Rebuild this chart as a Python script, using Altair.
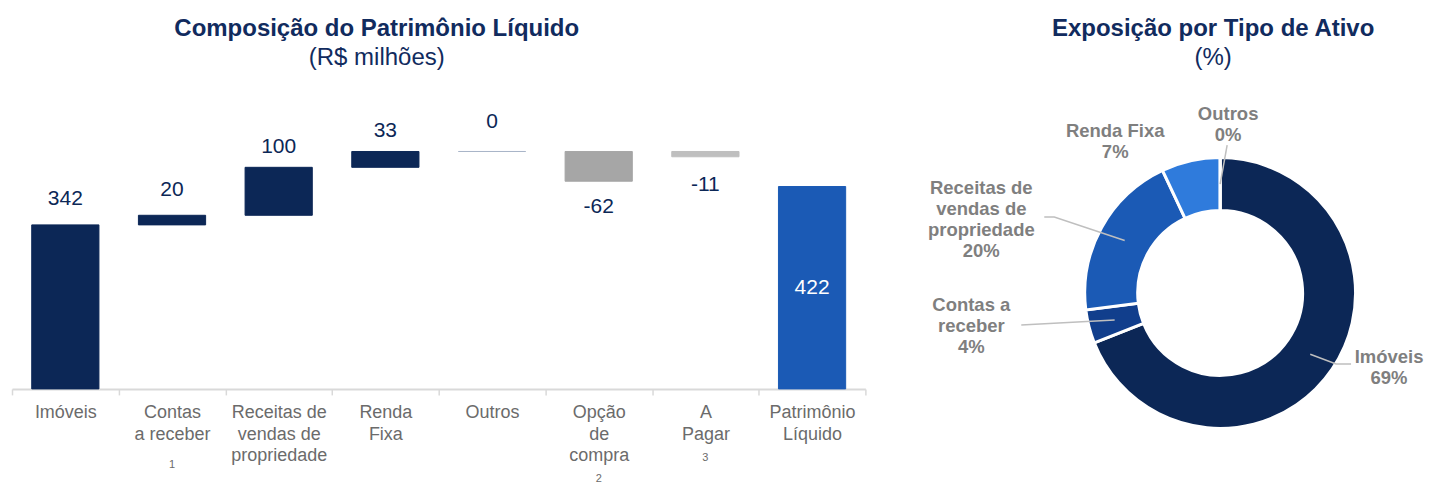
import math
import altair as alt
import pandas as pd

# ---------------- data ----------------
wf_categories = ["Imóveis", "Contas\na receber", "Receitas de\nvendas de\npropriedade", "Renda\nFixa",
                 "Outros", "Opção\nde\ncompra", "A\nPagar", "Patrimônio\nLíquido"]
wf_values = [342, 20, 100, 33, 0, -62, -11, 422]
wf_kinds = ["total", "up", "up", "up", "up", "down", "down", "total"]
wf_notes = ["", "1", "", "", "", "2", "3", ""]

pie_categories = ["Imóveis", "Contas a receber", "Receitas de vendas de propriedade", "Renda Fixa", "Outros"]
pie_label_lines = ["Imóveis", "Contas a|receber", "Receitas de|vendas de|propriedade", "Renda Fixa", "Outros"]
pie_values = [69, 4, 20, 7, 0]

# ---------------- styles ----------------
FONT = "Liberation Sans"
NAVY = "#0C2756"
TITLE_C = "#112B5E"
AXIS_GRAY = "#D9D9D9"
LABEL_GRAY = "#6B6B6B"
PIE_TXT = "#7F7F7F"

WF_COLORS = [NAVY, NAVY, NAVY, NAVY, "#A9B6C9", "#A6A6A6", "#BFBFBF", "#1B5AB5"]
WF_LABEL_POS = ["above", "above", "above", "above", "above", "below", "below", "inside"]
WF_LABEL_DY = [-26, -25, -20, -21, -30, 26, 28, 0]
NOTE_Y = {"1": 375, "2": 389, "3": 368}

PIE_COLORS = [NAVY, "#113E8C", "#1B5AB5", "#2F7BDC", "#9DC3E6"]
X0, Y0 = 896, 90  # page position of the donut panel origin (layout helper)
CX, CY = 1221 - X0, 293 - Y0
R_IN, R_OUT, R_LEAD = 82.5, 135.5, 109
PIE_LABEL_XY_ABS = [(1390, 348), (972, 296), (982, 179), (1116, 122), (1229, 105)]
LEADER_PTS_ABS = {
    "Imóveis": [(1337, 364), (1352, 364)],
    "Contas a receber": [(1022, 325)],
    "Receitas de vendas de propriedade": [(1055, 217), (1045, 217)],
    "Outros": [(1228, 145)],
}

W_LEFT, H = 854, 299
Y_MAX = 623

# ---------------- waterfall ----------------
starts, ends = [], []
level = 0
for v, k in zip(wf_values, wf_kinds):
    if k == "total":
        s, e = 0, v
        level = v
    elif k == "up":
        s, e = level, level + v
        level = e
    else:
        s, e = level, level + v
    starts.append(s)
    ends.append(e)

label_y = []
for s, e, p in zip(starts, ends, WF_LABEL_POS):
    if p == "above":
        label_y.append(max(s, e))
    elif p == "below":
        label_y.append(min(s, e))
    else:
        label_y.append((s + e) / 2)

df_wf = pd.DataFrame({
    "cat": wf_categories,
    "idx": list(range(len(wf_categories))),
    "start": starts,
    "end": ends,
    "color": WF_COLORS,
    "ly": label_y,
    "ltxt": [str(v) for v in wf_values],
    "note": wf_notes,
})

x_enc = alt.X(
    "cat:N", sort=wf_categories, title=None,
    scale=alt.Scale(paddingInner=0, paddingOuter=0),
    axis=alt.Axis(
        labelExpr="split(datum.label, '\\n')", labelAngle=0, labelFont=FONT, labelFontSize=18,
        labelColor=LABEL_GRAY, labelLineHeight=21.5, labelPadding=9, labelOverlap=False,
        labelBound=False, labelLimit=0, tickSize=6, tickColor=AXIS_GRAY, tickWidth=1.5,
        tickBand="extent", domainColor=AXIS_GRAY, domainWidth=2, grid=False,
    ),
)
y_scale = alt.Scale(domain=[0, Y_MAX], nice=False, zero=True)

base = alt.Chart(df_wf).encode(x=x_enc)
bars = base.mark_bar(width=alt.RelativeBandSize(0.63), strokeWidth=1).encode(
    y=alt.Y("start:Q", scale=y_scale, axis=None),
    y2="end:Q",
    fill=alt.Fill("color:N", scale=None),
    stroke=alt.Stroke("color:N", scale=None),
)
layers = [bars]
for i, (p, dy) in enumerate(zip(WF_LABEL_POS, WF_LABEL_DY)):
    layers.append(
        base.transform_filter(alt.datum.idx == i).mark_text(
            font=FONT, fontSize=21, baseline="middle", dy=dy,
            color=("white" if p == "inside" else NAVY),
        ).encode(y=alt.Y("ly:Q", scale=y_scale, axis=None), text="ltxt:N")
    )
for n in wf_notes:
    if n:
        layers.append(
            base.transform_filter(alt.datum.note == n).mark_text(
                font=FONT, fontSize=11, color=LABEL_GRAY, baseline="middle"
            ).encode(y=alt.value(NOTE_Y[n]), text="note:N")
        )

left = alt.layer(*layers).properties(
    width=W_LEFT, height=H,
    title=alt.TitleParams(
        text="Composição do Patrimônio Líquido", subtitle="(R$ milhões)",
        font=FONT, fontSize=24, fontWeight="bold", color=TITLE_C,
        subtitleFont=FONT, subtitleFontSize=24, subtitleColor=TITLE_C, subtitlePadding=5,
        anchor="middle", dx=-62, offset=20,
    ),
)

# ---------------- donut ----------------
total = sum(pie_values)
mids = []
cum = 0
for v in pie_values:
    mids.append((cum + v / 2) / total * 2 * math.pi)
    cum += v

df_pie = pd.DataFrame({
    "cat": pie_categories,
    "value": pie_values,
    "idx": list(range(len(pie_values))),
    "color": PIE_COLORS,
    "txt": [f"{l}|{v}%" for l, v in zip(pie_label_lines, pie_values)],
    "lx": [p[0] - X0 for p in PIE_LABEL_XY_ABS],
    "ly": [p[1] - Y0 for p in PIE_LABEL_XY_ABS],
})

rows = []
for cat, a in zip(pie_categories, mids):
    if cat not in LEADER_PTS_ABS:
        continue
    pts = [(CX + R_LEAD * math.sin(a), CY - R_LEAD * math.cos(a))] + [
        (px - X0, py - Y0) for px, py in LEADER_PTS_ABS[cat]
    ]
    for i, (px, py) in enumerate(pts):
        rows.append({"cat": cat, "o": i, "px": px, "py": py})
df_lines = pd.DataFrame(rows)

arc = alt.Chart(df_pie).mark_arc(innerRadius=R_IN, outerRadius=R_OUT, stroke="white", strokeWidth=3).encode(
    theta=alt.Theta("value:Q", stack=True),
    order=alt.Order("idx:Q"),
    fill=alt.Fill("color:N", scale=None),
    x=alt.value(CX), y=alt.value(CY),
)
leaders = alt.Chart(df_lines).mark_line(color="#BFBFBF", strokeWidth=1.5).encode(
    x=alt.X("px:Q", scale=None, axis=None),
    y=alt.Y("py:Q", scale=None, axis=None),
    detail="cat:N",
    order="o:Q",
)
plabels = alt.Chart(df_pie).transform_calculate(lines="split(datum.txt, '|')").mark_text(
    font=FONT, fontSize=18.5, fontWeight="bold", color=PIE_TXT, align="center", baseline="top", lineHeight=21
).encode(
    x=alt.X("lx:Q", scale=None, axis=None),
    y=alt.Y("ly:Q", scale=None, axis=None),
    text="lines:N",
)

right = alt.layer(arc, leaders, plabels).properties(
    width=520, height=H,
    title=alt.TitleParams(
        text="Exposição por Tipo de Ativo", subtitle="(%)",
        font=FONT, fontSize=24, fontWeight="bold", color=TITLE_C,
        subtitleFont=FONT, subtitleFontSize=24, subtitleColor=TITLE_C, subtitlePadding=5,
        anchor="middle", dx=1214 - (X0 + 260), offset=20,
    ),
)

chart = alt.hconcat(left, right, spacing=X0 - 867).properties(
    padding={"left": 3, "top": 9, "right": 0, "bottom": 0}
).configure_view(stroke=None)

chart.save("out.html", embed_options={"renderer": "svg", "actions": False})
